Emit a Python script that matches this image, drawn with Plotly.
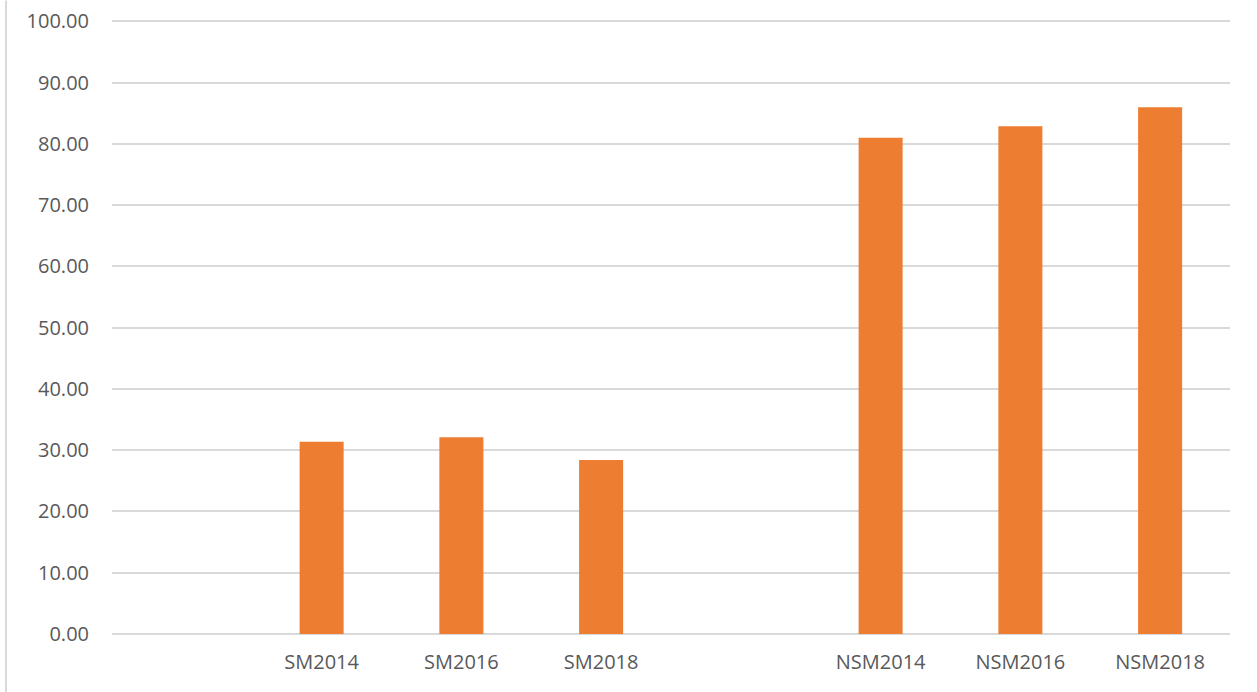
import plotly.graph_objects as go

# Category slots: blank slots act as spacers between the two groups
categories = [" ", "SM2014", "SM2016", "SM2018", "  ", "NSM2014", "NSM2016", "NSM2018"]
values = [None, 31.4, 32.1, 28.4, None, 81.0, 82.9, 86.0]
y_ticks = [0, 10, 20, 30, 40, 50, 60, 70, 80, 90, 100]

BAR_COLOR = "#ED7D31"
GRID_COLOR = "#D9D9D9"
TEXT_COLOR = "#595959"
FONT = "Open Sans"

Y_MAX = 100.4  # a little headroom so the 100 gridline is drawn
PX_PER_UNIT = 6.13
TOP = 21 - (Y_MAX - 100) * PX_PER_UNIT
PLOT_H = 634 - TOP

fig = go.Figure(
    go.Bar(
        x=categories,
        y=values,
        marker=dict(color=BAR_COLOR, line=dict(width=0)),
        width=0.315,
        hoverinfo="x+y",
    )
)

fig.update_layout(
    width=1257,
    height=692,
    autosize=False,
    margin=dict(l=112, r=27, t=TOP, b=58, pad=0, autoexpand=False),
    paper_bgcolor="white",
    plot_bgcolor="white",
    showlegend=False,
    font=dict(family=FONT, size=20, color=TEXT_COLOR),
    xaxis=dict(
        type="category",
        categoryorder="array",
        categoryarray=categories,
        automargin=False,
        showgrid=False,
        showline=False,
        ticks="",
        ticklabelstandoff=14,
        tickfont=dict(family=FONT, size=20, color=TEXT_COLOR),
    ),
    yaxis=dict(
        range=[0, Y_MAX],
        tickvals=y_ticks,
        tickformat=".2f",
        automargin=False,
        showgrid=True,
        gridcolor=GRID_COLOR,
        gridwidth=2,
        zeroline=True,
        zerolinecolor=GRID_COLOR,
        zerolinewidth=2,
        showline=False,
        ticks="",
        ticklabelstandoff=22,
        tickfont=dict(family=FONT, size=20, color=TEXT_COLOR),
    ),
    shapes=[
        dict(
            type="line",
            xref="paper",
            yref="paper",
            x0=(6 - 112) / 1118,
            x1=(6 - 112) / 1118,
            y0=-58 / PLOT_H,
            y1=1 + TOP / PLOT_H,
            line=dict(color=GRID_COLOR, width=2),
        )
    ],
)

fig.write_html("out.html")
